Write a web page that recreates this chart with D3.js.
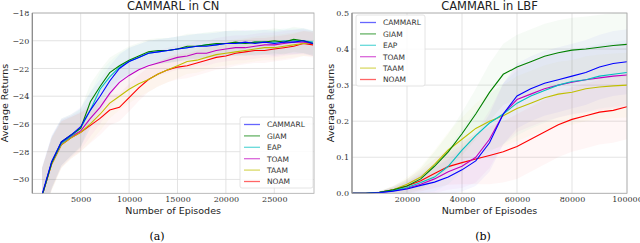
<!DOCTYPE html>
<html>
<head>
<meta charset="utf-8">
<style>
  body { margin:0; background:#fff; }
  svg { position:absolute; top:0; left:0; }
  .tick text { font-family:"DejaVu Serif", "Liberation Serif", serif; font-size:8px; fill:#333; }
  .lbl { font-family:"DejaVu Sans", sans-serif; fill:#222; }
  .leg text { font-family:"DejaVu Sans", sans-serif; font-size:7.5px; fill:#333; }
</style>
<script src="https://cdnjs.cloudflare.com/ajax/libs/d3/7.8.5/d3.min.js"></script>
</head>
<body>
<svg width="640" height="243"></svg>
<script>
var names = ["CAMMARL", "GIAM", "EAP", "TOAM", "TAAM", "NOAM"];
var colors = ["#0000ff", "#008000", "#00bfbf", "#bf00bf", "#bfbf00", "#ff0000"];

// CN: episodes and average returns
var cnEp = [1000,2000,3000,4000,5000,6000,7000,8000,9000,10000,11000,12000,13000,14000,15000,
            16000,17000,18000,19000,20000,21000,22000,23000,24000,25000,26000,27000,28000,29000];
var cnCAMMARL = [-31.1,-28.7,-27.3,-26.8,-26.2,-25.0,-24.0,-22.9,-22.0,-21.5,-21.2,-20.9,-20.8,-20.7,-20.6,
                 -20.5,-20.4,-20.4,-20.3,-20.2,-20.2,-20.1,-20.2,-20.1,-20.2,-20.1,-20.1,-20.0,-20.2];
var cnGIAM    = [-31.2,-28.8,-27.3,-26.8,-26.3,-24.4,-23.3,-22.3,-21.8,-21.4,-21.1,-20.8,-20.7,-20.7,-20.6,
                 -20.4,-20.4,-20.3,-20.2,-20.2,-20.1,-20.2,-20.1,-20.1,-20.0,-20.1,-19.9,-20.0,-20.2];
var cnEAP     = [-31.2,-28.8,-27.4,-26.9,-26.3,-25.0,-23.5,-22.6,-21.9,-21.5,-21.2,-20.9,-20.8,-20.7,-20.6,
                 -20.5,-20.4,-20.3,-20.3,-20.2,-20.2,-20.2,-20.1,-20.1,-20.1,-20.0,-20.0,-20.0,-20.1];
var cnTOAM    = [-31.2,-28.8,-27.4,-26.9,-26.5,-25.6,-24.8,-23.8,-23.0,-22.5,-22.1,-21.8,-21.6,-21.4,-21.2,
                 -21.1,-20.9,-20.9,-20.7,-20.6,-20.5,-20.5,-20.4,-20.3,-20.3,-20.2,-20.1,-20.1,-20.2];
var cnTAAM    = [-31.2,-28.9,-27.5,-27.0,-26.6,-26.0,-25.3,-24.5,-24.0,-23.5,-23.1,-22.8,-22.4,-22.1,-21.8,
                 -21.5,-21.4,-21.2,-21.0,-20.9,-20.8,-20.7,-20.6,-20.5,-20.5,-20.4,-20.3,-20.2,-20.2];
var cnNOAM    = [-31.2,-28.9,-27.5,-27.0,-26.6,-26.1,-25.6,-25.0,-24.8,-24.1,-23.4,-22.8,-22.4,-22.1,-21.9,
                 -21.8,-21.6,-21.4,-21.2,-21.1,-20.9,-20.8,-20.7,-20.7,-20.6,-20.5,-20.4,-20.2,-20.3];
var cnStd = [2.0,1.9,1.7,1.5,1.4,1.3,1.2,1.1,1.0,1.0,0.95,0.9,0.9,0.9,0.9,
             0.9,0.9,0.9,0.9,0.9,0.9,0.9,0.9,0.9,0.9,0.9,0.9,0.9,0.9];
var cnXTicks = [5000, 10000, 15000, 20000, 25000];
var cnYTicks = [-30, -28, -26, -24, -22, -20, -18];

// LBF: episodes and average returns
var lbfEp = [0,5000,10000,15000,20000,25000,30000,35000,40000,45000,50000,55000,60000,65000,70000,
             75000,80000,85000,90000,95000,100000];
var lbfCAMMARL = [0,0,0.002,0.006,0.012,0.022,0.031,0.045,0.065,0.09,0.14,0.22,0.27,0.29,0.305,
                  0.315,0.325,0.335,0.35,0.36,0.365];
var lbfGIAM    = [0,0,0.003,0.010,0.020,0.040,0.075,0.115,0.165,0.22,0.28,0.33,0.35,0.365,0.38,
                  0.39,0.397,0.40,0.405,0.41,0.413];
var lbfEAP     = [0,0,0.003,0.008,0.016,0.030,0.045,0.075,0.12,0.16,0.195,0.22,0.25,0.27,0.285,
                  0.30,0.31,0.315,0.325,0.33,0.335];
var lbfTOAM    = [0,0,0.002,0.007,0.014,0.025,0.040,0.060,0.075,0.10,0.15,0.22,0.26,0.275,0.29,
                  0.30,0.308,0.315,0.32,0.325,0.328];
var lbfTAAM    = [0,0,0.003,0.010,0.025,0.045,0.080,0.12,0.15,0.18,0.20,0.215,0.235,0.25,0.265,
                  0.275,0.28,0.29,0.295,0.298,0.30];
var lbfNOAM    = [0,0,0.003,0.010,0.020,0.035,0.055,0.074,0.085,0.095,0.105,0.115,0.13,0.15,0.17,
                  0.19,0.205,0.215,0.225,0.23,0.24];
var lbfStd = [0,0,0.003,0.01,0.02,0.03,0.04,0.05,0.06,0.07,0.08,0.085,0.09,0.09,0.09,
              0.09,0.09,0.09,0.09,0.09,0.09];
var lbfXTicks = [20000, 40000, 60000, 80000, 100000];
var lbfYTicks = [0.0, 0.1, 0.2, 0.3, 0.4, 0.5];

var svg = d3.select("svg");
var fmtMinus = function(d) { return d < 0 ? "\u2212" + Math.abs(d) : String(d); };

function panel(opt) {
  var x = d3.scaleLinear().domain(opt.xdom).range([opt.x0, opt.x1]);
  var y = d3.scaleLinear().domain(opt.ydom).range([193.3, 13]);
  var g = svg.append("g");

  g.append("clipPath").attr("id", opt.id).append("rect")
    .attr("x", opt.x0).attr("y", 13).attr("width", opt.x1 - opt.x0).attr("height", 180.3);

  // grid
  g.selectAll(".gx").data(opt.xticks).enter().append("line")
    .attr("x1", d => x(d)).attr("x2", d => x(d)).attr("y1", 13).attr("y2", 193.3)
    .attr("stroke", "#dcdcdc").attr("stroke-width", 0.8);
  g.selectAll(".gy").data(opt.yticks).enter().append("line")
    .attr("x1", opt.x0).attr("x2", opt.x1).attr("y1", d => y(d)).attr("y2", d => y(d))
    .attr("stroke", "#dcdcdc").attr("stroke-width", 0.8);

  var plot = g.append("g").attr("clip-path", "url(#" + opt.id + ")");

  opt.series.forEach(function(s, k) {
    var pts = opt.ep.map((e, i) => [e, s[i], opt.std[i]]);
    plot.append("path").datum(pts)
      .attr("d", d3.area().x(d => x(d[0])).y0(d => y(d[1] - d[2])).y1(d => y(d[1] + d[2])))
      .attr("fill", colors[k]).attr("fill-opacity", 0.035);
  });
  for (var k = opt.series.length - 1; k >= 0; k--) {
    var s = opt.series[k];
    var pts = opt.ep.map((e, i) => [e, s[i]]);
    plot.append("path").datum(pts)
      .attr("d", d3.line().x(d => x(d[0])).y(d => y(d[1])))
      .attr("fill", "none").attr("stroke", colors[k]).attr("stroke-width", 1.1);
  }

  // frame
  g.append("rect").attr("x", opt.x0).attr("y", 13).attr("width", opt.x1 - opt.x0).attr("height", 180.3)
    .attr("fill", "none").attr("stroke", "#aaa").attr("stroke-width", 0.8);
  g.append("line").attr("x1", opt.x0).attr("x2", opt.x0).attr("y1", 13).attr("y2", 193.3)
    .attr("stroke", "#888").attr("stroke-width", 1.2);

  // axes
  var ax = g.append("g").attr("transform", "translate(0,193.3)")
    .call(d3.axisBottom(x).tickValues(opt.xticks).tickSize(0).tickPadding(3).tickFormat(d3.format("d")));
  ax.select(".domain").remove();
  var ay = g.append("g").attr("transform", "translate(" + opt.x0 + ",0)")
    .call(d3.axisLeft(y).tickValues(opt.yticks).tickSize(0).tickPadding(3).tickFormat(opt.yfmt));
  ay.select(".domain").remove();

  var cx = (opt.x0 + opt.x1) / 2;
  g.append("text").attr("class", "lbl").attr("x", cx).attr("y", 10).attr("text-anchor", "middle")
    .style("font-size", "11.5px").text(opt.title);
  g.append("text").attr("class", "lbl").attr("x", cx).attr("y", 214).attr("text-anchor", "middle")
    .style("font-size", "9.5px").text("Number of Episodes");
  g.append("text").attr("class", "lbl")
    .attr("transform", "translate(" + opt.ylx + ",103) rotate(-90)").attr("text-anchor", "middle")
    .style("font-size", "9.5px").text("Average Returns");
  g.append("text").attr("x", opt.capx).attr("y", 240).attr("text-anchor", "middle")
    .style("font-family", "'DejaVu Serif', serif").style("font-size", "11px").text(opt.cap);

  // legend
  var lg = g.append("g").attr("class", "leg");
  lg.append("rect").attr("x", opt.lx).attr("y", opt.ly).attr("width", opt.lw).attr("height", 71)
    .attr("rx", 2).attr("fill", "#fff").attr("fill-opacity", 0.85).attr("stroke", "#ddd").attr("stroke-width", 0.8);
  names.forEach(function(n, i) {
    var yy = opt.ly + 7.5 + i * 11.4;
    lg.append("line").attr("x1", opt.lx + 4).attr("x2", opt.lx + 20).attr("y1", yy).attr("y2", yy)
      .attr("stroke", colors[i]).attr("stroke-opacity", 0.6).attr("stroke-width", 1.3);
    lg.append("text").attr("x", opt.lx + 27).attr("y", yy + 2.8).text(n);
  });
}

panel({
  id: "c1", title: "CAMMARL in CN", cap: "(a)", capx: 157, ylx: 8,
  x0: 32.3, x1: 314, xdom: [0, (314 - 32.3) / 48.4 * 5000], ydom: [-31, -18],
  ep: cnEp, series: [cnCAMMARL, cnGIAM, cnEAP, cnTOAM, cnTAAM, cnNOAM], std: cnStd,
  xticks: cnXTicks, yticks: cnYTicks, yfmt: fmtMinus,
  lx: 240, ly: 117, lw: 73
});
panel({
  id: "c2", title: "CAMMARL in LBF", cap: "(b)", capx: 483, ylx: 334,
  x0: 352, x1: 627, xdom: [0, 100000], ydom: [0, 0.5],
  ep: lbfEp, series: [lbfCAMMARL, lbfGIAM, lbfEAP, lbfTOAM, lbfTAAM, lbfNOAM], std: lbfStd,
  xticks: lbfXTicks, yticks: lbfYTicks, yfmt: d3.format(".1f"),
  lx: 356, ly: 15, lw: 69
});
</script>
</body>
</html>
